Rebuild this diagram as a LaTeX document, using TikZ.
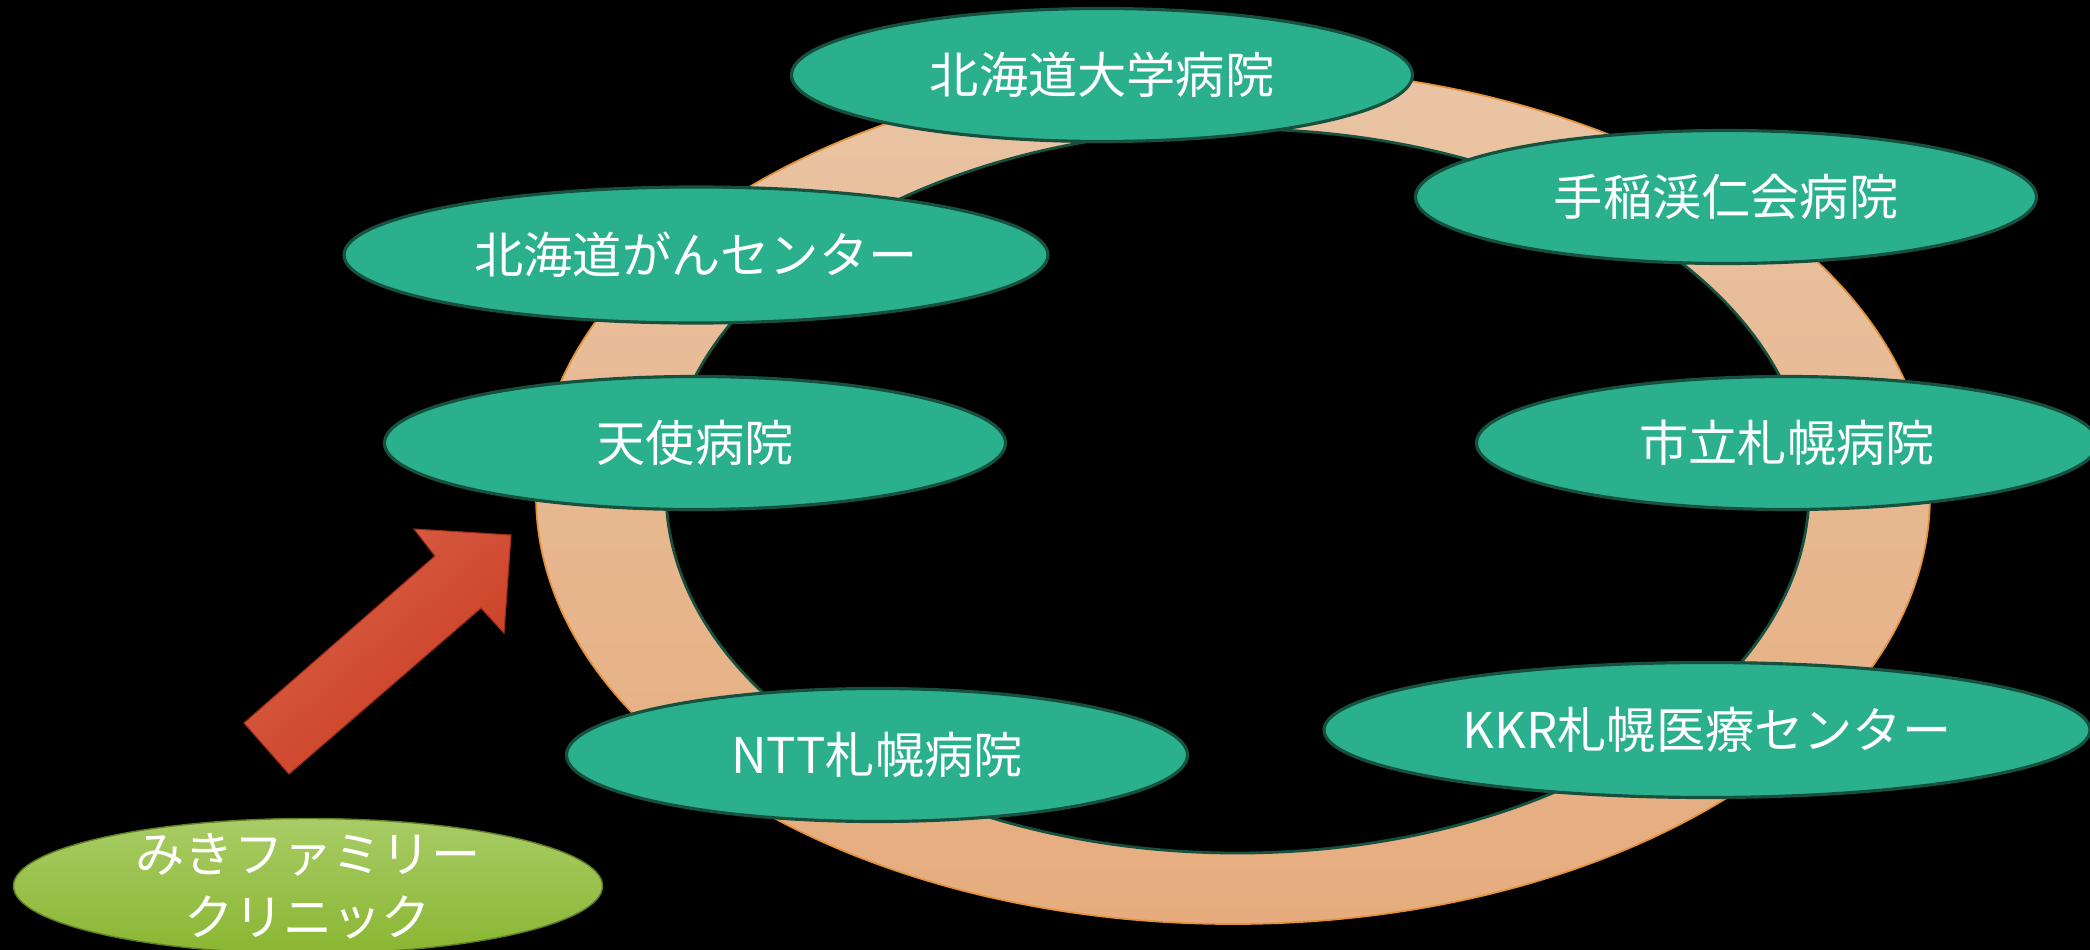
\documentclass[tikz,border=0pt]{standalone}
\usepackage{fontspec}
\newfontfamily\jpfont{Noto Sans CJK JP}
\usetikzlibrary{shapes.geometric}
\usepackage{xcolor}
\definecolor{hospgreen}{RGB}{43, 176, 141}
\definecolor{hospedge}{RGB}{22, 80, 62}
\definecolor{ringtop}{RGB}{233, 196, 164}
\definecolor{ringbottom}{RGB}{230, 172, 126}
\definecolor{ringedge}{RGB}{226, 146, 58}
\definecolor{clinictop}{RGB}{168, 204, 102}
\definecolor{clinicbottom}{RGB}{138, 182, 50}
\definecolor{arrowlight}{RGB}{218, 98, 74}
\definecolor{arrowdark}{RGB}{200, 58, 30}

\begin{document}
\begin{tikzpicture}[
    hospital/.style={ellipse, draw=hospedge, line width=0.9pt, fill=hospgreen, minimum width=6.21cm, minimum height=1.33cm, inner sep=0pt, text=white, font=\jpfont\fontsize{14pt}{16pt}\selectfont},
    clinic/.style={ellipse, draw=clinicbottom!70!black, line width=0.4pt, top color=clinictop, bottom color=clinicbottom, minimum width=5.89cm, minimum height=1.35cm, inner xsep=0pt, inner ysep=-4pt, text=white, align=center, font=\jpfont\fontsize{14pt}{18pt}\selectfont}
]

\useasboundingbox (0,0) rectangle (20.9,-9.5);
\fill[black] (0,0) rectangle (20.9,-9.5);
\clip (0,0) rectangle (20.9,-9.5);

% ring
\shade[top color=ringtop, bottom color=ringbottom, even odd rule]
    (12.33,-4.955) ellipse [x radius=6.97, y radius=4.285]
    (12.375,-4.91) ellipse [x radius=5.715, y radius=3.62];
\draw[ringedge, line width=0.5pt] (12.33,-4.955) ellipse [x radius=6.97, y radius=4.285];
\draw[hospedge, line width=0.8pt] (12.375,-4.91) ellipse [x radius=5.715, y radius=3.62];

% block arrow
\shade[top color=arrowlight, bottom color=arrowdark, shading angle=41]
    (2.44,-7.23) -- (4.35,-5.56) -- (4.14,-5.29) -- (5.11,-5.35) -- (5.04,-6.33) -- (4.81,-6.08) -- (2.89,-7.74) -- cycle;
\draw[arrowdark!80!black, line width=0.3pt]
    (2.44,-7.23) -- (4.35,-5.56) -- (4.14,-5.29) -- (5.11,-5.35) -- (5.04,-6.33) -- (4.81,-6.08) -- (2.89,-7.74) -- cycle;

\node[hospital] (hokudai) at (11.02,-0.75) {北海道大学病院};
\node[hospital] (teine) at (17.26,-1.97) {手稲渓仁会病院};
\node[hospital, minimum width=7.04cm, minimum height=1.36cm] (gancenter) at (6.96,-2.55) {北海道がんセンター};
\node[hospital] (tenshi) at (6.95,-4.43) {天使病院};
\node[hospital] (shiritsu) at (17.87,-4.43) {市立札幌病院};
\node[hospital] (ntt) at (8.77,-7.55) {NTT札幌病院};
\node[hospital, minimum width=7.66cm, minimum height=1.35cm] (kkr) at (17.07,-7.30) {KKR札幌医療センター};
\node[clinic] (miki) at (3.08,-8.86) {みきファミリー\\クリニック};

\end{tikzpicture}
\end{document}
